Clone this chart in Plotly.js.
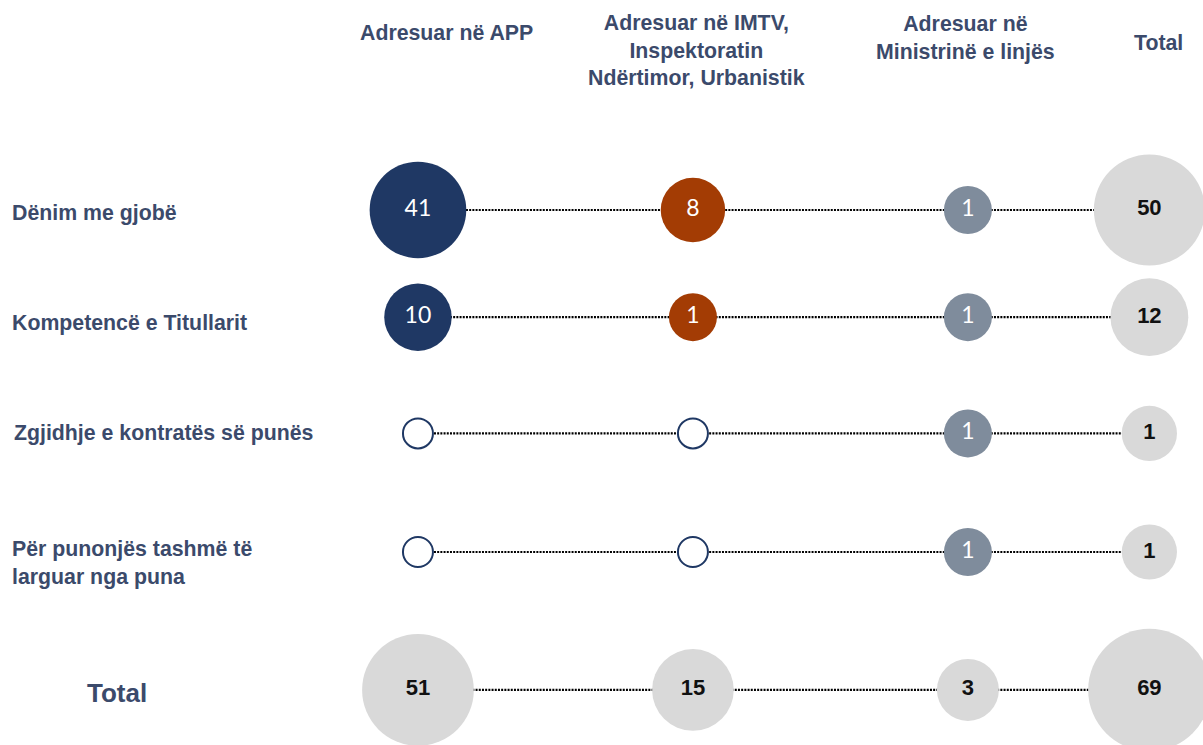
<!DOCTYPE html>
<html><head><meta charset="utf-8">
<script src="https://cdn.plot.ly/plotly-3.0.1.min.js"></script>
<style>html,body{margin:0;padding:0;background:#fff}#chart{width:1203px;height:745px}</style>
</head><body><div id="chart"></div>
<script>
// ---- data ----
const columns = ['Adresuar në APP', 'Adresuar në IMTV,<br>Inspektoratin<br>Ndërtimor, Urbanistik', 'Adresuar në<br>Ministrinë e linjës', 'Total'];
const rows = ['Dënim me gjobë', 'Kompetencë e Titullarit', 'Zgjidhje e kontratës së punës', 'Për punonjës tashmë të<br>larguar nga puna'];
const totalLabel = 'Total';
const valuesAPP = [41, 10, 0, 0];
const valuesIMTV = [8, 1, 0, 0];
const valuesMinistry = [1, 1, 1, 1];
const rowTotals = [50, 12, 1, 1];
const columnTotals = [51, 15, 3];
const grandTotal = 69;

// ---- layout helpers (positions / styles) ----
const W = 1203, H = 745;
const colPos = [0, 1, 2, 2.66];                 // column slot on x axis
const rowPos = [0, 0.94, 1.96, 3, 4.21];        // row slot on y axis (last = total row)
const colColors = ['#1F3864', '#A33C04', '#7F8C9C'];
const grey = '#D9D9D9';
const headColor = '#3B4A6B';
const colorSize = v => 39 + 9 * Math.sqrt(v);
const greySize = v => 46 + 9.2 * Math.sqrt(v);

const traces = [];
// dotted connector lines (behind bubbles)
const colSeries = [valuesAPP, valuesIMTV, valuesMinistry];
for (let r = 0; r <= rows.length; r++) {
  traces.push({
    type: 'scatter', mode: 'lines',
    x: colPos, y: colPos.map(() => rowPos[r]),
    line: {color: '#000000', width: 2.2, dash: '2px,1.2px'},
    hoverinfo: 'skip'
  });
}
// coloured bubbles per column
colSeries.forEach((vals, c) => {
  traces.push({
    type: 'scatter', mode: 'markers+text', cliponaxis: false,
    x: vals.map(() => colPos[c]), y: vals.map((v, r) => rowPos[r]),
    text: vals.map(v => v > 0 ? String(v) : ''),
    textposition: 'middle center',
    textfont: {family: 'Lato, "Open Sans", sans-serif', size: 23, color: '#FFFFFF'},
    marker: {
      size: vals.map(v => v > 0 ? colorSize(v) : 30),
      color: vals.map(v => v > 0 ? colColors[c] : '#FFFFFF'),
      line: {width: vals.map(v => v > 0 ? 0 : 2), color: '#1F3864'},
      opacity: 1
    },
    hoverinfo: 'skip'
  });
});
// grey total bubbles: row totals column + total row
const gx = rowTotals.map(() => colPos[3]).concat(columnTotals.map((v, c) => colPos[c]), [colPos[3]]);
const gy = rowTotals.map((v, r) => rowPos[r]).concat(columnTotals.map(() => rowPos[4]), [rowPos[4]]);
const gv = rowTotals.concat(columnTotals, [grandTotal]);
traces.push({
  type: 'scatter', mode: 'markers+text', cliponaxis: false,
  x: gx, y: gy, text: gv.map(String), textposition: 'middle center',
  textfont: {family: '"Liberation Sans", Arial, sans-serif', size: 22, color: '#111111', weight: 'bold'},
  marker: {size: gv.map(greySize), color: grey, line: {width: 0}, opacity: 1},
  hoverinfo: 'skip'
});

const px = x => x / W, py = y => 1 - y / H;
const headFont = {family: '"Liberation Sans", Arial, sans-serif', size: 21.3, color: headColor, weight: 'bold'};
const headPos = [[446, 33], [696, 51], [965, 38], [1158, 43]];
const rowLabelY = [213, 323, 433, 563];
const annotations = [];
columns.forEach((t, i) => annotations.push({
  text: t, xref: 'paper', yref: 'paper', x: px(headPos[i][0]), y: py(headPos[i][1]),
  xanchor: 'center', yanchor: 'middle', showarrow: false, align: 'center', font: headFont
}));
rows.forEach((t, i) => annotations.push({
  text: t, xref: 'paper', yref: 'paper', x: px(i === 2 ? 12 : 10), y: py(rowLabelY[i]),
  xanchor: 'left', yanchor: 'middle', showarrow: false, align: 'left', font: headFont
}));
annotations.push({
  text: totalLabel, xref: 'paper', yref: 'paper', x: px(117), y: py(693),
  xanchor: 'center', yanchor: 'middle', showarrow: false,
  font: Object.assign({}, headFont, {size: 26})
});

const layout = {
  width: W, height: H, margin: {l: 0, r: 0, t: 0, b: 0},
  paper_bgcolor: '#FFFFFF', plot_bgcolor: '#FFFFFF',
  showlegend: false, hovermode: false,
  xaxis: {visible: false, range: [-1.52, 2.855], fixedrange: true},
  yaxis: {visible: false, range: [4.693, -1.842], fixedrange: true},
  annotations: annotations
};
Plotly.newPlot('chart', traces, layout, {displayModeBar: false, staticPlot: true});
</script>
</body></html>
